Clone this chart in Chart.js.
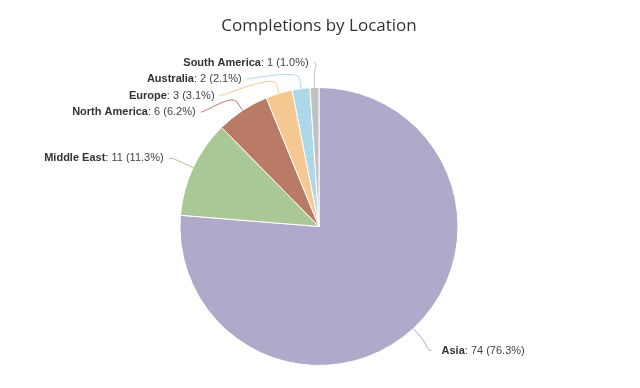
<!DOCTYPE html>
<html>
<head>
<meta charset="utf-8">
<script src="https://cdn.jsdelivr.net/npm/chart.js@4"></script>
<style>
  html, body { margin: 0; padding: 0; background: #fff; }
  #wrap { width: 640px; height: 388px; }
</style>
</head>
<body>
<div id="wrap"><canvas id="myChart"></canvas></div>
<script>
// Chart data
const locations = ['Asia', 'Middle East', 'North America', 'Europe', 'Australia', 'South America'];
const completions = [74, 11, 6, 3, 2, 1];
const sliceColors = ['#b1a9ca', '#aac896', '#b97b65', '#f5c892', '#aed8e8', '#c2c2c2'];

const total = completions.reduce((a, b) => a + b, 0);

// label settings
const labelDistance = 27;
const labelSpacing = 16.5;
const connectorPadding = 5;
const labelFont = '"Liberation Sans", Arial, sans-serif';

// Draw outside labels with connectors (Highcharts-like)
const pieLabels = {
    id: 'pieLabels',
    afterDatasetsDraw(chart) {
        const ctx = chart.ctx;
        const arcs = chart.getDatasetMeta(0).data;

        const items = arcs.map((arc, i) => {
            const mid = (arc.startAngle + arc.endAngle) / 2;
            const r = arc.outerRadius;
            const R = r + labelDistance;
            return {
                i: i,
                mid: mid,
                r: r,
                R: R,
                cx: arc.x,
                cy: arc.y,
                left: Math.cos(mid) < 0,
                y: arc.y + Math.sin(mid) * R
            };
        });

        // push overlapping labels apart on each side
        [true, false].forEach(side => {
            const group = items.filter(it => it.left === side).sort((a, b) => a.y - b.y);
            for (let k = 1; k < group.length; k++) {
                group[k].y = Math.max(group[k].y, group[k - 1].y + labelSpacing);
            }
        });

        ctx.save();
        items.forEach(it => {
            const dy = Math.max(-it.R, Math.min(it.R, it.y - it.cy));
            const dx = Math.sqrt(it.R * it.R - dy * dy);
            const lx = it.cx + (it.left ? -dx : dx);
            const ly = it.y + 2;

            const cos = Math.cos(it.mid);
            const sin = Math.sin(it.mid);
            const tx = it.cx + cos * it.r;
            const ty = it.cy + sin * it.r;
            const bx = it.cx + cos * (it.r + 10);
            const by = it.cy + sin * (it.r + 10);

            // connector
            ctx.beginPath();
            ctx.moveTo(lx, ly);
            ctx.bezierCurveTo(lx + (it.left ? 5 : -5), ly, 2 * bx - tx, 2 * by - ty, bx, by);
            ctx.lineTo(tx, ty);
            ctx.strokeStyle = sliceColors[it.i];
            ctx.lineWidth = 1;
            ctx.stroke();

            // text
            const name = locations[it.i];
            const pct = (completions[it.i] / total * 100).toFixed(1);
            const rest = ': ' + completions[it.i] + ' (' + pct + '%)';

            ctx.textBaseline = 'middle';
            ctx.font = 'bold 11px ' + labelFont;
            const nameW = ctx.measureText(name).width;
            ctx.font = '11px ' + labelFont;
            const restW = ctx.measureText(rest).width;

            let startX;
            if (it.left) {
                startX = lx - connectorPadding - nameW - restW;
            } else {
                startX = lx + connectorPadding + 5;
            }
            ctx.textAlign = 'left';
            ctx.font = 'bold 11px ' + labelFont;
            ctx.fillStyle = '#333333';
            ctx.fillText(name, startX, ly);
            ctx.font = '11px ' + labelFont;
            ctx.fillStyle = '#444444';
            ctx.fillText(rest, startX + nameW, ly);
        });
        ctx.restore();
    }
};

const ctx = document.getElementById('myChart').getContext('2d');
const myChart = new Chart(ctx, {
    type: 'pie',
    data: {
        labels: locations,
        datasets: [{
            data: completions,
            backgroundColor: sliceColors,
            borderColor: '#ffffff',
            borderWidth: 1,
            hoverOffset: 0,
            offset: 0
        }]
    },
    options: {
        responsive: true,
        maintainAspectRatio: false,
        animation: false,
        layout: {
            padding: { top: 0, bottom: 22, left: 0, right: 2 }
        },
        plugins: {
            legend: { display: false },
            tooltip: { enabled: false },
            title: {
                display: true,
                text: 'Completions by Location',
                color: '#333333',
                font: { family: '"Open Sans", sans-serif', size: 17, weight: 'normal' },
                padding: { top: 16, bottom: 50.6 }
            }
        }
    },
    plugins: [pieLabels]
});
</script>
</body>
</html>
